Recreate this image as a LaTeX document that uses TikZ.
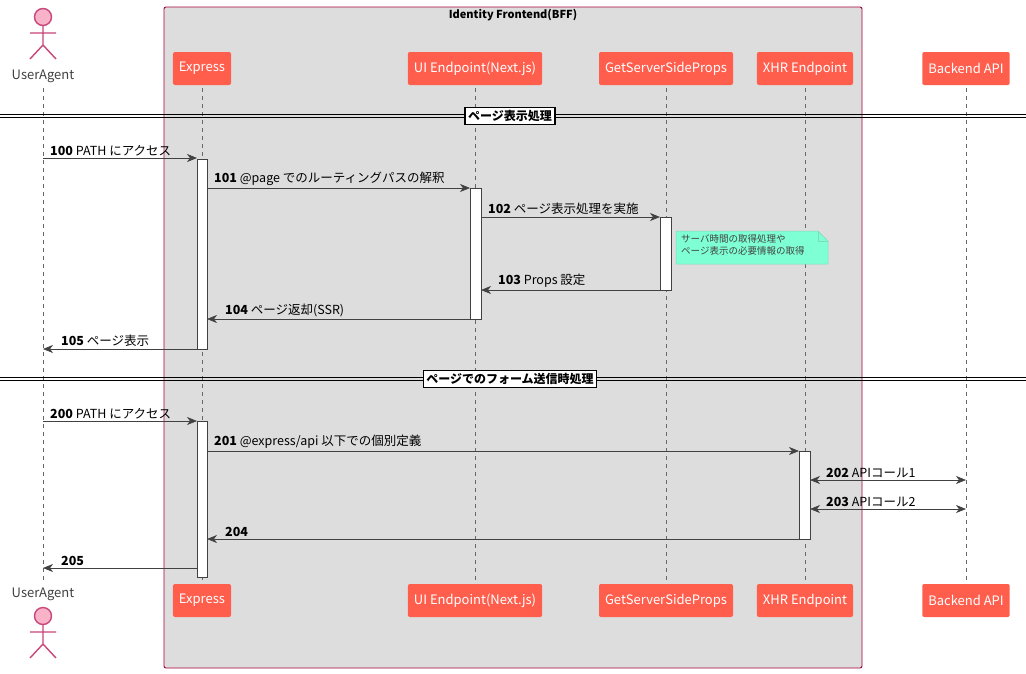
\documentclass[tikz,border=0pt]{standalone}
\usepackage{fontspec}
\setmainfont{Noto Sans CJK JP}
\usetikzlibrary{arrows.meta,shapes.geometric}
\definecolor{part}{HTML}{FF5E4D}
\definecolor{boxbd}{HTML}{A80036}
\definecolor{boxbg}{HTML}{DDDDDD}
\definecolor{act}{HTML}{C8467A}
\definecolor{actbg}{HTML}{F9B3C8}
\definecolor{ln}{HTML}{414141}
\definecolor{notec}{HTML}{7FFFD4}
\tikzset{
 p/.style={draw=none,fill=part,rounded corners=2pt,text=white,minimum height=33pt,inner xsep=6pt,font=\fontsize{13}{15}\selectfont},
 life/.style={draw=ln!80,dash pattern=on 4pt off 4pt,line width=0.5pt},
 actv/.style={draw=ln,fill=white,line width=0.6pt},
 msg/.style={draw=ln,line width=0.7pt,-{Stealth[length=10pt,width=8pt,inset=3pt]}},
 bmsg/.style={draw=ln,line width=0.7pt,{Stealth[length=10pt,width=8pt,inset=3pt]}-{Stealth[length=10pt,width=8pt,inset=3pt]}},
 ml/.style={font=\fontsize{12.5}{14}\selectfont,anchor=south west,inner sep=1pt},
 div/.style={draw,fill=white,line width=1.3pt,inner sep=3pt,font=\bfseries\fontsize{12}{14}\selectfont},
 actor/.style={draw=act,line width=1.4pt},
}
\begin{document}
\begin{tikzpicture}[x=1pt,y=-1pt]
\useasboundingbox (0,0) rectangle (1026,673);
\fill[white] (0,0) rectangle (1026,673);
% group box
\draw[boxbd,fill=boxbg,rounded corners=2pt,line width=0.9pt] (164,7) rectangle (862,668);
\node[font=\bfseries\fontsize{11}{13}\selectfont] (grp) at (513,15) {Identity Frontend(BFF)};
% lifelines
\foreach \x in {43,202,475,666,805,966}{\draw[life] (\x,88) -- (\x,582);}
% participants
\node[p] (ex) at (202,68.5) {Express};
\node[p] (ui) at (475,68.5) {UI Endpoint(Next.js)};
\node[p] (gs) at (666,68.5) {GetServerSideProps};
\node[p] (xh) at (805,68.5) {XHR Endpoint};
\node[p] (be) at (966,68.5) {Backend API};
\node[p] (ex2) at (202,600.5) {Express};
\node[p] (ui2) at (475,600.5) {UI Endpoint(Next.js)};
\node[p] (gs2) at (666,600.5) {GetServerSideProps};
\node[p] (xh2) at (805,600.5) {XHR Endpoint};
\node[p] (be2) at (966,600.5) {Backend API};
% actors
\foreach \t in {5,604}{
 \draw[actor,fill=actbg] (43,\t+12) circle (8.5);
 \draw[actor] (43,\t+21) -- (43,\t+40) (30,\t+28) -- (56,\t+28) (30,\t+54) -- (43,\t+40) -- (56,\t+54);
}
\node[font=\fontsize{13}{15}\selectfont,text=ln] (ua) at (43,76) {UserAgent};
\node[font=\fontsize{13}{15}\selectfont,text=ln] (ua2) at (43,594) {UserAgent};
% dividers
\foreach \y in {116,379}{\draw[line width=0.7pt] (0,\y-1.5) -- (1026,\y-1.5) (0,\y+1.5) -- (1026,\y+1.5);}
\node[div] (d1) at (510,116) {ページ表示処理};
\node[div] (d2) at (510,379) {ページでのフォーム送信時処理};
% activations
\draw[actv] (197,159) rectangle (207,349);
\draw[actv] (470,188) rectangle (481,319);
\draw[actv] (660,217) rectangle (671,290);
\draw[actv] (197,421) rectangle (207,577);
\draw[actv] (799,451) rectangle (810,539);
% note
\draw[fill=notec,draw=notec!70!gray,line width=0.5pt] (676,231) -- (818,231) -- (828,241) -- (828,264) -- (676,264) -- cycle;
\draw[notec!70!gray,line width=0.5pt] (818,231) -- (818,241) -- (828,241);
\node[font=\fontsize{9.5}{12.5}\selectfont,text=ln,align=left,anchor=north west,inner sep=0pt] (nt) at (681,234) {サーバ時間の取得処理や\\ページ表示の必要情報の取得};
% messages
\coordinate (a1) at (43,158); \coordinate (b1) at (197,158);
\draw[msg] (a1) -- (b1); \node[ml] at (49,157) {\textbf{100} PATH にアクセス};
\coordinate (a2) at (207,188); \coordinate (b2) at (470,188);
\draw[msg] (a2) -- (b2); \node[ml] at (213,187) {\textbf{101} @page でのルーティングパスの解釈};
\coordinate (a3) at (481,217); \coordinate (b3) at (660,217);
\draw[msg] (a3) -- (b3); \node[ml] at (487,216) {\textbf{102} ページ表示処理を実施};
\coordinate (a4) at (660,290); \coordinate (b4) at (481,290);
\draw[msg] (a4) -- (b4); \node[ml] at (497,289) {\textbf{103} Props 設定};
\coordinate (a5) at (470,319); \coordinate (b5) at (207,319);
\draw[msg] (a5) -- (b5); \node[ml] at (224,318) {\textbf{104} ページ返却(SSR)};
\coordinate (a6) at (197,349); \coordinate (b6) at (43,349);
\draw[msg] (a6) -- (b6); \node[ml] at (60,348) {\textbf{105} ページ表示};
\coordinate (a7) at (43,421); \coordinate (b7) at (197,421);
\draw[msg] (a7) -- (b7); \node[ml] at (49,420) {\textbf{200} PATH にアクセス};
\coordinate (a8) at (207,451); \coordinate (b8) at (799,451);
\draw[msg] (a8) -- (b8); \node[ml] at (213,450) {\textbf{201} @express/api 以下での個別定義};
\coordinate (a9) at (810,480); \coordinate (b9) at (966,480);
\draw[bmsg] (a9) -- (b9); \node[ml] at (825,479) {\textbf{202} APIコール1};
\coordinate (a10) at (810,509); \coordinate (b10) at (966,509);
\draw[bmsg] (a10) -- (b10); \node[ml] at (825,508) {\textbf{203} APIコール2};
\coordinate (a11) at (799,539); \coordinate (b11) at (207,539);
\draw[msg] (a11) -- (b11); \node[ml] at (224,538) {\textbf{204}};
\coordinate (a12) at (197,568); \coordinate (b12) at (43,568);
\draw[msg] (a12) -- (b12); \node[ml] at (60,567) {\textbf{205}};
\end{tikzpicture}
\end{document}
